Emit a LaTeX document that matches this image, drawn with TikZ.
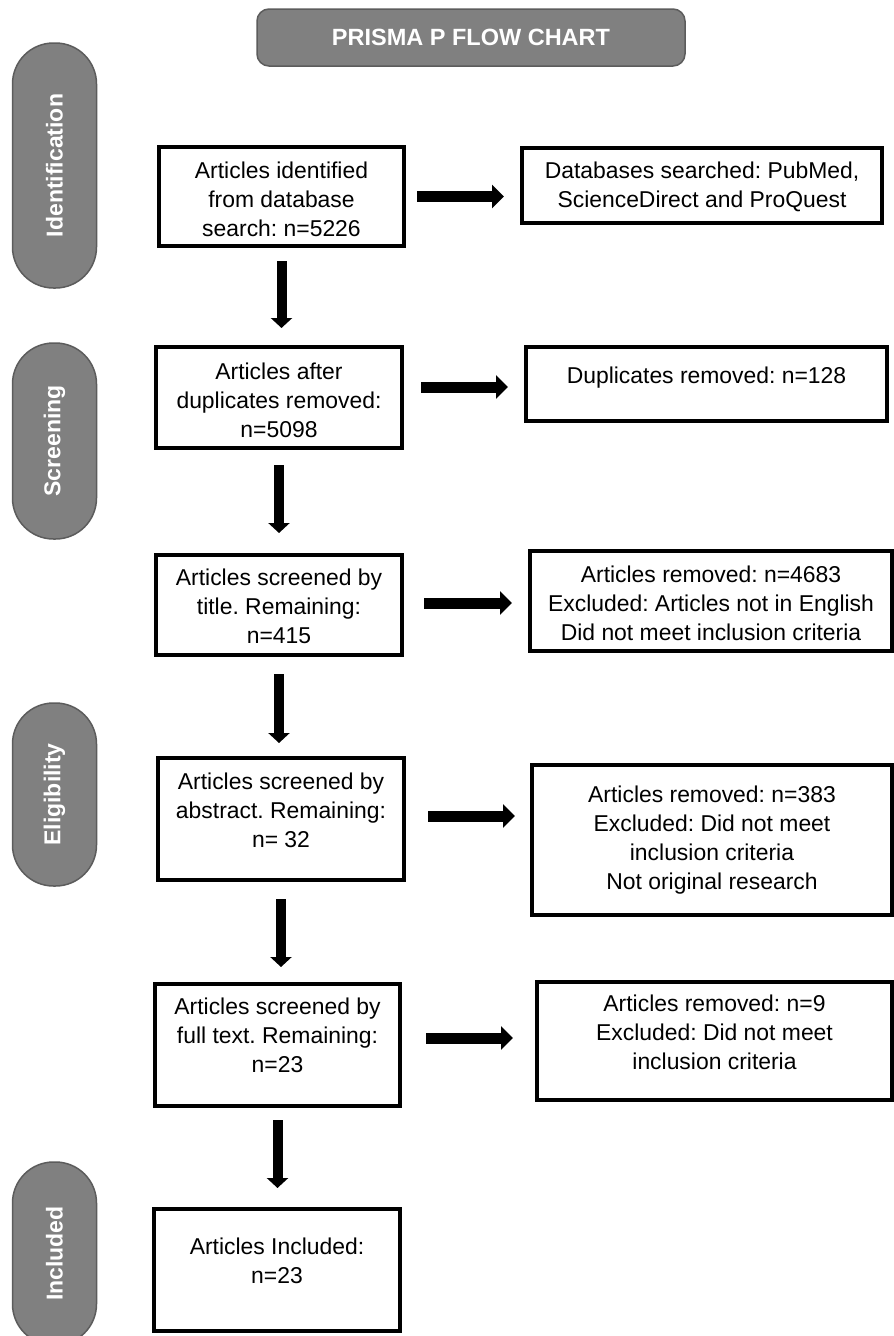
\documentclass[tikz,border=0pt]{standalone}
\usepackage{fontspec}
\setmainfont{Liberation Sans}
\usetikzlibrary{arrows.meta}
\frenchspacing
\definecolor{pillgray}{RGB}{128,128,128}
\definecolor{pillborder}{RGB}{92,92,92}
\newcommand{\bxtext}[4]{\parbox[c][#2pt][t]{#1pt}{\frenchspacing\centering\vspace*{#3pt}#4\par}}
\tikzset{
  stepbox/.style={draw=black, line width=4pt, inner sep=0pt, outer sep=0pt, fill=white,
    font=\fontsize{22.9}{29}\selectfont},
  phase/.style={draw=pillborder, line width=1.5pt, fill=pillgray, text=white,
    font=\fontsize{23}{28}\selectfont\bfseries, rotate=90, rounded corners=41pt,
    inner sep=0pt, minimum height=84pt},
  titlebox/.style={draw=pillborder, line width=1.5pt, fill=pillgray, text=white,
    font=\fontsize{23.5}{27}\selectfont\bfseries, rounded corners=12pt, inner sep=0pt,
    minimum width=428pt, minimum height=57pt},
  varrow/.style={line width=10pt, -{Triangle[length=10pt,width=21pt]}},
  harrow/.style={line width=11pt, -{Triangle[length=12pt,width=23pt]}},
}
\begin{document}
\begin{tikzpicture}[x=1pt,y=-1pt]
\useasboundingbox (0,0) rectangle (894,1336);
\clip (0,0) rectangle (894,1336);
\fill[white] (0,0) rectangle (894,1336);

% title
\node[titlebox] (title) at (471,37.5) {PRISMA P FLOW CHART};

% phase labels
\node[phase, minimum width=245pt] (pid) at (54.5,165.5) {Identification};
\node[phase, minimum width=196pt] (psc) at (54.5,441) {Screening};
\node[phase, minimum width=183pt] (pel) at (54.5,794.5) {Eligibility};
\node[phase, minimum width=183pt] (pin) at (54.5,1253.5) {Included};

% main column
\node[stepbox] (b1) at (281.5,196.5) {\bxtext{245}{99}{14.5}{Articles identified\\from database\\search: n=5226}};
\node[stepbox] (b2) at (279,397.5) {\bxtext{246}{101}{15.5}{Articles after\\duplicates removed:\\n=5098}};
\node[stepbox] (b3) at (279,605) {\bxtext{246}{100}{13.5}{Articles screened by\\title. Remaining:\\n=415}};
\node[stepbox] (b4) at (281,819) {\bxtext{246}{122}{14.5}{Articles screened by\\abstract. Remaining:\\n= 32}};
\node[stepbox] (b5) at (277.5,1045) {\bxtext{245}{122}{13.5}{Articles screened by\\full text. Remaining:\\n=23}};
\node[stepbox] (b6) at (277,1270) {\bxtext{246}{122}{28.5}{Articles Included:\\n=23}};

% right column
\node[stepbox] (r1) at (702,185.5) {\bxtext{360}{75}{13.5}{Databases searched: PubMed,\\ScienceDirect and ProQuest}};
\node[stepbox] (r2) at (706.5,384) {\bxtext{361}{74}{19.5}{Duplicates removed: n=128}};
\node[stepbox] (r3) at (711,601) {\bxtext{362}{100}{14.5}{Articles removed: n=4683\\Excluded: Articles not in English\\Did not meet inclusion criteria}};
\node[stepbox] (r4) at (712,840) {\bxtext{360}{150}{20.5}{Articles removed: n=383\\Excluded: Did not meet\\inclusion criteria\\Not original research}};
\node[stepbox] (r5) at (714.5,1041) {\bxtext{355}{118}{12.5}{Articles removed: n=9\\Excluded: Did not meet\\inclusion criteria}};

% vertical arrows
\draw[varrow, shorten <=15pt, shorten >=19pt] (b1.south) -- (b1.south |- b2.north);
\draw[varrow, shorten <=17pt, shorten >=22pt] (b2.south) -- (b2.south |- b3.north);
\draw[varrow, shorten <=19pt, shorten >=15pt] (b3.south) -- (b3.south |- b4.north);
\draw[varrow, shorten <=19pt, shorten >=17pt] (b4.south) -- (b4.south |- b5.north);
\draw[varrow, shorten <=14pt, shorten >=21pt] (b5.south) -- (b5.south |- b6.north);

% horizontal arrows
\draw[harrow, shorten <=13pt, shorten >=18pt] (b1.east) -- (b1.east -| r1.west);
\draw[harrow, shorten <=19pt, shorten >=18pt] ([yshift=10.5pt]b2.east) -- ([yshift=10.5pt]b2.east -| r2.west);
\draw[harrow, shorten <=22pt, shorten >=18pt] ([yshift=2pt]b3.east) -- ([yshift=2pt]b3.east -| r3.west);
\draw[harrow, shorten <=24pt, shorten >=17pt] ([yshift=3pt]b4.east) -- ([yshift=3pt]b4.east -| r4.west);
\draw[harrow, shorten <=26pt, shorten >=24pt] ([yshift=7pt]b5.east) -- ([yshift=7pt]b5.east -| r5.west);
\end{tikzpicture}
\end{document}
